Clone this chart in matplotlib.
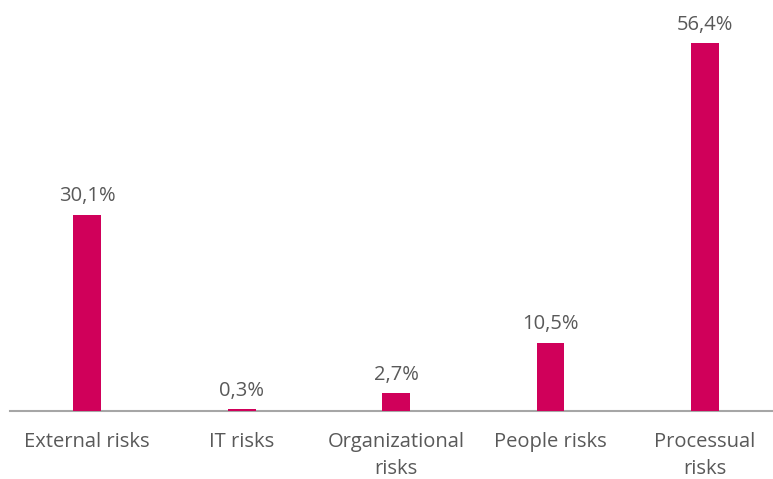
import matplotlib.pyplot as plt

plt.rcParams['font.family'] = ['Open Sans', 'DejaVu Sans']

categories = ['External risks', 'IT risks', 'Organizational\nrisks', 'People risks', 'Processual\nrisks']
values = [30.1, 0.3, 2.7, 10.5, 56.4]
value_labels = ['30,1%', '0,3%', '2,7%', '10,5%', '56,4%']

bar_color = '#D0005A'
text_color = '#595959'

fig = plt.figure(figsize=(7.73, 4.79), dpi=100)
ax = fig.add_axes([10 / 773, 68 / 479, 1 - 10 / 773, 411 / 479])

x = range(len(categories))
bars = ax.bar(x, values, width=0.18, color=bar_color, zorder=3)

for b, lab in zip(bars, value_labels):
    ax.annotate(lab, (b.get_x() + b.get_width() / 2, b.get_height()),
                xytext=(0, 6), textcoords='offset points',
                ha='center', va='bottom', fontsize=14.5, color=text_color)

ax.set_xlim(-0.5, 4.44)
ax.set_ylim(0, 63)
ax.set_xticks(list(x))
ax.set_xticklabels(categories, fontsize=14.5, color=text_color, linespacing=1.5)
ax.tick_params(axis='x', length=0, pad=15)
ax.set_yticks([])

for s in ['top', 'right', 'left']:
    ax.spines[s].set_visible(False)
ax.spines['bottom'].set_color('#A6A6A6')
ax.spines['bottom'].set_linewidth(1.5)
ax.spines['bottom'].set_zorder(1)

fig.savefig('out.png', dpi=100)
